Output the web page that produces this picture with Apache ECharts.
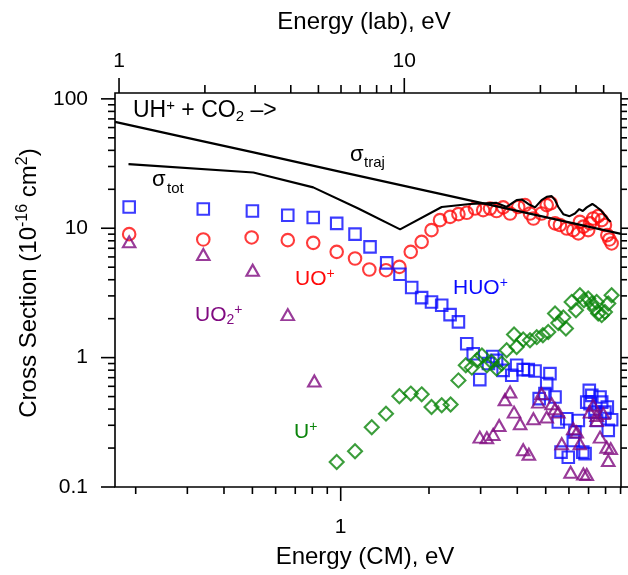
<!DOCTYPE html>
<html><head><meta charset="utf-8">
<script src="https://cdn.jsdelivr.net/npm/echarts@6/dist/echarts.min.js"></script>
<style>html,body{margin:0;padding:0;background:#fff}#c{width:628px;height:575px}</style>
</head><body><div id="c"></div>
<script>
// ---- axis ranges ----
const X_MIN = 0.170, X_MAX = 9.03;      // Energy (CM), eV
const LAB_MIN = 0.968, LAB_MAX = 57.5;  // Energy (lab), eV
const Y_MIN = 0.1, Y_MAX = 111;         // Cross section

// ---- tick values ----
const cmMajorTicks = [1];
const cmMinorTicks = [0.2,0.3,0.4,0.5,0.6,0.7,0.8,0.9,2,3,4,5,6,7,8,9];
const labMajorTicks = [1,10];
const labMinorTicks = [2,3,4,5,6,7,8,9,20,30,40,50];
const yMajorTicks = [0.1,1,10,100];
const yMinorTicks = [0.2,0.3,0.4,0.5,0.6,0.7,0.8,0.9,2,3,4,5,6,7,8,9,20,30,40,50,60,70,80,90];

// ---- sigma_traj line ----
const trajE = [0.170, 0.3, 0.5, 1, 2, 4, 9.03];
const trajS = [66.5, 50.0, 38.7, 27.3, 19.3, 13.6, 9.05];

// ---- sigma_tot line ----
const totE = [0.189,0.504,0.806,1.148,1.594,2.21,2.76,3.15,3.40,3.68,3.98,4.14,4.36,4.60,4.84,5.04,5.24,5.38,5.52,5.74,6.03,6.29,6.51,6.69,6.90,7.21,7.46,7.70,7.96,8.17,8.33];
const totS = [31.3,27.0,20.7,14.2,9.79,14.6,15.4,15.6,15.7,14.6,16.5,16.7,15.4,14.5,16.5,17.5,17.7,16.5,14.6,12.85,12.4,13.0,14.06,13.6,14.5,15.4,14.6,13.8,12.6,11.7,11.2];

// ---- HUO+ (blue squares) ----
const huoE = [0.190,0.340,0.500,0.660,0.806,0.969,1.119,1.259,1.435,1.593,1.746,1.888,2.04,2.21,2.36,2.52,2.69,2.83,2.98,3.19,3.30,3.40,3.58,3.83,3.98,4.19,4.36,4.60,4.75,4.97,5.04,5.17,5.38,5.52,5.90,5.64,5.97,6.21,6.29,6.46,6.69,6.81,6.90,7.04,7.18,7.36,7.66,7.76,7.96,8.11,8.39,8.17,7.46,7.08];
const huoS = [14.6,14.1,13.6,12.6,12.1,10.9,9.0,7.18,5.40,4.41,3.48,2.91,2.69,2.54,2.15,1.89,1.28,1.07,0.676,0.90,1.02,0.953,0.797,0.730,0.872,0.807,0.807,0.788,0.482,0.527,0.629,0.752,0.496,0.318,0.337,0.186,0.170,0.229,0.266,0.327,0.186,0.181,0.453,0.558,0.511,0.379,0.496,0.453,0.379,0.415,0.331,0.274,0.327,0.440];

// ---- UO+ (red circles) ----
const uoE = [0.190,0.340,0.497,0.660,0.806,0.969,1.119,1.252,1.427,1.585,1.733,1.888,2.04,2.18,2.36,2.52,2.69,2.87,3.06,3.23,3.40,3.58,3.78,4.03,4.25,4.42,4.54,4.84,5.04,5.20,5.38,5.59,5.90,6.21,6.46,6.72,6.98,7.26,7.55,7.76,7.96,8.11,8.24,8.39,6.54,7.08];
const uoS = [9.0,8.19,8.49,8.09,7.71,6.57,5.84,4.80,4.74,5.03,6.57,7.85,9.67,11.55,12.25,12.85,13.16,14.2,13.8,14.2,13.6,14.5,13.0,14.6,15.1,13.0,11.9,13.0,15.1,15.6,10.9,10.6,9.96,9.67,9.12,10.3,9.67,11.9,12.4,11.55,10.6,8.85,8.19,7.63,11.2,10.9];

// ---- UO2+ (purple triangles) ----
const uo2E = [0.190,0.340,0.501,0.660,0.813,2.98,3.15,3.31,3.47,3.63,3.78,3.90,4.09,4.19,4.38,4.54,4.72,4.84,5.04,5.24,5.38,5.52,5.67,6.08,6.21,6.38,6.54,6.72,6.90,7.08,7.26,7.46,7.66,7.86,8.07,8.17,8.33,7.46];
const uo2S = [7.85,6.27,4.74,2.15,0.659,0.243,0.240,0.255,0.299,0.473,0.542,0.379,0.308,0.194,0.179,0.337,0.453,0.527,0.347,0.440,0.403,0.379,0.216,0.130,0.282,0.266,0.216,0.126,0.125,0.379,0.428,0.327,0.243,0.369,0.203,0.160,0.198,0.357];

// ---- U+ (green diamonds) ----
const uE = [0.969,1.119,1.276,1.427,1.585,1.733,1.888,2.04,2.21,2.37,2.52,2.67,2.80,2.91,3.03,3.15,3.27,3.40,3.54,3.68,3.90,3.98,4.19,4.42,4.66,4.89,5.10,5.38,5.52,5.74,5.86,6.13,6.34,6.54,6.75,6.98,7.18,7.36,7.55,7.76,7.96,8.17,8.39,7.46];
const uS = [0.156,0.189,0.290,0.369,0.502,0.527,0.520,0.415,0.428,0.435,0.667,0.872,0.837,0.953,1.04,0.872,0.925,0.822,0.899,1.14,1.51,1.21,1.38,1.36,1.44,1.49,1.58,2.19,1.85,2.04,1.68,2.69,2.32,3.04,2.78,2.86,2.62,2.39,2.19,2.13,2.25,2.62,3.04,2.69];

const FONT = '"Liberation Sans", Arial, sans-serif';
const C_BLUE = '#0a0aff', C_RED = '#ff0a0a', C_PURPLE = '#800a80', C_GREEN = '#0a840a';
const zip = (a, b) => a.map((v, i) => [v, b[i]]);

function rich(color, size) {
  size = size || 21;
  return {
    n: {fontSize: size, lineHeight: Math.round(size * 1.15), fontFamily: FONT, fill: color},
    sup: {fontSize: Math.round(size * 0.65), lineHeight: Math.round(size * 0.48), verticalAlign: 'top', fontFamily: FONT, fill: color},
    sub: {fontSize: Math.round(size * 0.65), lineHeight: Math.round(size * 0.48), verticalAlign: 'bottom', fontFamily: FONT, fill: color}
  };
}
function label(x, y, text, color, size) {
  return {type: 'text', x: x, y: y, silent: true, z: 100,
    style: {text: text, rich: rich(color, size), align: 'left', verticalAlign: 'middle', fill: color, fontFamily: FONT, fontSize: size || 21}};
}
function plain(x, y, text, size, align) {
  return {type: 'text', x: x, y: y, silent: true, z: 100,
    style: {text: text, fontFamily: FONT, fontSize: size, fill: '#000', align: align || 'left', verticalAlign: 'middle'}};
}

const isPow10 = v => Math.abs(Math.log10(v) - Math.round(Math.log10(v))) < 1e-6;
const lbl = {fontFamily: FONT, fontSize: 21, color: '#000', showMinLabel: true, showMaxLabel: true,
  formatter: v => isPow10(v) ? String(+v.toPrecision(6)) : ''};

const LW = 1.6;
function tickLine(x1, y1, x2, y2) {
  return {type: 'line', shape: {x1: x1, y1: y1, x2: x2, y2: y2}, style: {stroke: '#000', lineWidth: LW}};
}

const yTickData = yMajorTicks.map(v => [X_MIN, v, 14, 8]).concat(yMinorTicks.map(v => [X_MIN, v, 7, 6]));
const xTickData = cmMajorTicks.map(v => [v, Y_MIN, 14]).concat(cmMinorTicks.map(v => [v, Y_MIN, 7]));
const labTickData = labMajorTicks.map(v => [v, Y_MAX, 15]).concat(labMinorTicks.map(v => [v, Y_MAX, 8]));

function scatter(name, data, symbol, size, color) {
  return {type: 'scatter', name: name, data: data, symbol: symbol, symbolSize: size,
    itemStyle: {color: 'rgba(0,0,0,0)', borderColor: color, borderWidth: 2.1}, silent: true, z: 3};
}

const chart = echarts.init(document.getElementById('c'), null, {renderer: 'canvas'});
chart.setOption({
  animation: false,
  backgroundColor: '#fff',
  grid: {left: 115, right: 7, top: 93, bottom: 88, show: true, borderColor: '#000', borderWidth: LW, backgroundColor: 'rgba(0,0,0,0)'},
  xAxis: [
    {type: 'log', min: X_MIN, max: X_MAX, position: 'bottom', axisLine: {show: false}, axisTick: {show: false},
     splitLine: {show: false}, minorTick: {show: false}, axisLabel: Object.assign({margin: 30}, lbl)},
    {type: 'log', min: LAB_MIN, max: LAB_MAX, position: 'top', axisLine: {show: false}, axisTick: {show: false},
     splitLine: {show: false}, axisLabel: Object.assign({margin: 21}, lbl)}
  ],
  yAxis: [
    {type: 'log', min: Y_MIN, max: Y_MAX, axisLine: {show: false}, axisTick: {show: false},
     splitLine: {show: false}, axisLabel: Object.assign({margin: 27}, lbl)}
  ],
  series: [
    scatter('UO+', zip(uoE, uoS), 'circle', 12.5, C_RED),
    scatter('HUO+', zip(huoE, huoS), 'rect', 11.5, C_BLUE),
    scatter('UO2+', zip(uo2E, uo2S), 'triangle', [12.5, 11], C_PURPLE),
    scatter('U+', zip(uE, uS), 'diamond', 14, C_GREEN),
    {type: 'line', name: 'sigma_traj', data: zip(trajE, trajS), showSymbol: false, symbol: 'none',
     lineStyle: {color: '#000', width: 2.3}, silent: true, z: 4},
    {type: 'line', name: 'sigma_tot', data: zip(totE, totS), showSymbol: false, symbol: 'none',
     lineStyle: {color: '#000', width: 2.1}, silent: true, z: 4},
    {type: 'custom', xAxisIndex: 0, yAxisIndex: 0, data: yTickData, silent: true, z: 10, clip: false,
     renderItem: (p, api) => {
       const v = api.value(1), a = api.coord([X_MIN, v]), b = api.coord([X_MAX, v]);
       return {type: 'group', children: [tickLine(a[0] - api.value(2), a[1], a[0], a[1]), tickLine(b[0], b[1], b[0] + api.value(3), b[1])]};
     }},
    {type: 'custom', xAxisIndex: 0, yAxisIndex: 0, data: xTickData, silent: true, z: 10, clip: false,
     renderItem: (p, api) => {
       const a = api.coord([api.value(0), Y_MIN]);
       return tickLine(a[0], a[1], a[0], a[1] + api.value(2));
     }},
    {type: 'custom', xAxisIndex: 1, yAxisIndex: 0, data: labTickData, silent: true, z: 10, clip: false,
     renderItem: (p, api) => {
       const a = api.coord([api.value(0), Y_MAX]);
       return tickLine(a[0], a[1], a[0], a[1] - api.value(2));
     }}
  ],
  graphic: [
    plain(364, 22, 'Energy (lab), eV', 24, 'center'),
    plain(365, 557, 'Energy (CM), eV', 24, 'center'),
    {type: 'text', x: 29, y: 283, rotation: Math.PI / 2, silent: true, z: 100,
     style: {text: '{n|Cross Section (10}{sup|-16}{n| cm}{sup|2}{n|)}', rich: rich('#000', 24), align: 'center', verticalAlign: 'middle', fontFamily: FONT, fontSize: 24, fill: '#000'}},
    label(133, 111, '{n|UH}{sup|+}{n| + CO}{sub|2}{n| –>}', '#000', 23),
    plain(350, 155, 'σ', 22),
    plain(364, 163, 'traj', 15),
    plain(152, 180, 'σ', 22),
    plain(167, 189, 'tot', 15),
    label(295, 279, '{n|UO}{sup|+}', C_RED, 21),
    label(453, 288, '{n|HUO}{sup|+}', C_BLUE, 21),
    label(195, 315, '{n|UO}{sub|2}{sup|+}', C_PURPLE, 21),
    label(294, 432, '{n|U}{sup|+}', C_GREEN, 21)
  ]
});
</script>
</body></html>
